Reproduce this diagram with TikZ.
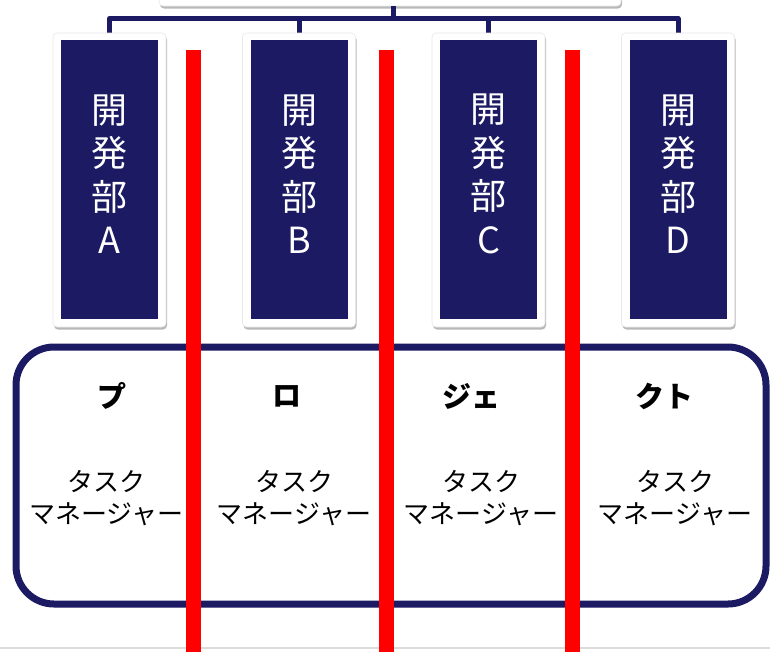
\documentclass[tikz,border=0pt]{standalone}
\usepackage{fontspec}
\setmainfont{Noto Sans CJK JP}
\usetikzlibrary{shadows}
\definecolor{navy}{HTML}{1B1A63}
\definecolor{redline}{HTML}{FF0000}
\tikzset{
  whitebox/.style={fill=white, draw=black!9, line width=0.6pt, rounded corners=4pt, inner sep=0pt,
    drop shadow={shadow xshift=1pt, shadow yshift=-2.5pt, fill=black, opacity=0.28}},
  deptbox/.style={fill=navy, draw=none, inner sep=0pt, minimum width=97pt, minimum height=279pt},
  depttext/.style={text=white, align=center, inner sep=0pt, font=\fontsize{36}{43.5}\selectfont},
  conn/.style={draw=navy, line width=5pt},
  projbox/.style={draw=navy, fill=white, line width=7pt, rounded corners=38pt, inner sep=0pt,
    minimum width=750pt, minimum height=257pt,
    drop shadow={shadow xshift=1pt, shadow yshift=-3pt, fill=black, opacity=0.25}},
  titletext/.style={inner sep=0pt, font=\fontsize{29}{30}\selectfont\bfseries},
  tasktext/.style={align=center, inner sep=0pt, font=\fontsize{26}{32}\selectfont},
  divider/.style={draw=redline, line width=15pt},
}
\begin{document}
\begin{tikzpicture}[x=1pt,y=-1pt]
\useasboundingbox (0,0) rectangle (770,651);
\clip (0,0) rectangle (770,651);
\fill[white] (0,0) rectangle (770,651);
% page edge line
\coordinate (edgeL) at (0,648);
\coordinate (edgeR) at (770,648);
\draw[black!14, line width=1.2pt] (edgeL) -- (edgeR);
% top box (cut off)
\node[whitebox, minimum width=462pt, minimum height=60pt] (top) at (390,-24) {};
% connectors
\coordinate (bus) at (393,18.5);
\foreach \n/\x in {A/109.5,B/299,C/488.5,D/678}{
  \coordinate (\n top) at (\x,33);
}
\draw[conn] (top.south -| bus) -- (bus);
\draw[conn, line join=round] (Atop) -- (Atop |- bus) -- (Dtop |- bus) -- (Dtop);
\draw[conn] (Btop) -- (Btop |- bus);
\draw[conn] (Ctop) -- (Ctop |- bus);
% department boxes
\foreach \n/\x/\l in {A/109.5/A,B/299/B,C/488.5/C,D/678/D}{
  \node[whitebox, minimum width=113pt, minimum height=294pt] (\n out) at (\x,180) {};
  \node[deptbox] (\n) at (\x,179.5) {};
  \node[depttext] (\n txt) at (\x,174) {開\\発\\部\\\l};
}
% project box
\node[projbox] (proj) at (391,475.5) {};
% title characters
\foreach \n/\x/\t in {p1/112/プ,p2/287/ロ,p3/471/ジェ,p4/664/クト}{
  \node[titletext] (\n) at (\x,396) {\t};
}
% task manager labels
\foreach \n/\x in {t1/106.5,t2/294,t3/481,t4/675}{
  \node[tasktext] (\n) at (\x,498) {タスク\\マネージャー};
}
% red dividers
\foreach \n/\x in {r1/193.5,r2/386,r3/572.5}{
  \coordinate (\n a) at (\x,50);
  \coordinate (\n b) at (\x,652);
  \draw[divider] (\n a) -- (\n b);
}
\end{tikzpicture}
\end{document}
